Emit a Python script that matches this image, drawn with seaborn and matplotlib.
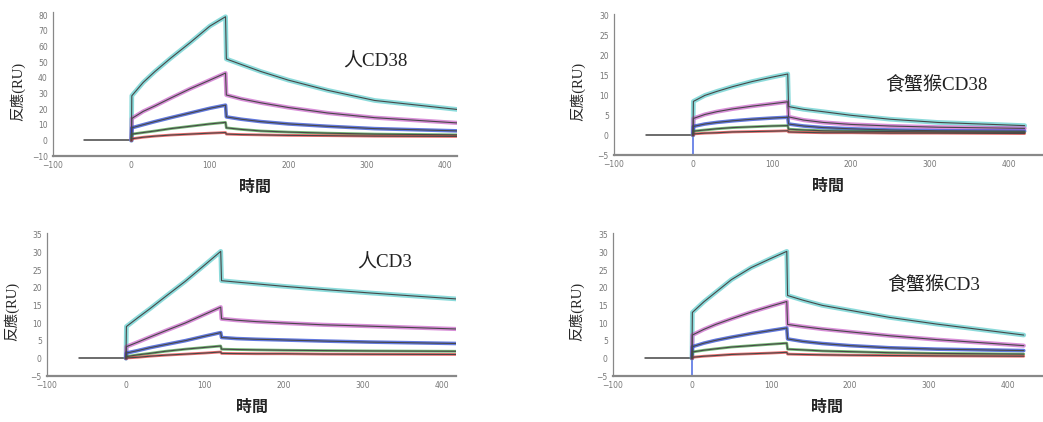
import matplotlib
matplotlib.use("Agg")
import matplotlib.pyplot as plt
import pandas as pd
import seaborn as sns
from matplotlib.ticker import MultipleLocator

# time points (s) shared by every curve: injection at 0, wash at 120
TIME = [0, 0.5, 15, 30, 50, 75, 100, 120, 121, 140, 165, 200, 250, 310, 420]
CONCS = ["c5", "c4", "c3", "c2", "c1"]
COLORS = {"c5": "#5ccccc", "c4": "#c860c8", "c3": "#2040d0", "c2": "#3a9a3a", "c1": "#e03030"}
WIDTHS = {"c5": 3.4, "c4": 3.0, "c3": 2.6, "c2": 2.0, "c1": 2.0}

BASE_T = [-60, 0]
BASE_V = [0, 0]

# 人CD38
H38 = {
    "c5": [0, 28.5, 37, 44, 52.5, 62.5, 73, 79, 52, 48.5, 44, 38.5, 32, 25.5, 19.5],
    "c4": [0, 14, 18.5, 22, 27, 33, 38.5, 43, 29, 26.5, 24, 21, 17.5, 14.5, 11],
    "c3": [0, 8, 10, 12, 14.5, 17.5, 20.5, 22.5, 15, 13.5, 12, 10.5, 9, 7.5, 6],
    "c2": [0, 4, 5, 6, 7.5, 9, 10.5, 11.5, 8, 7, 6, 5.3, 4.6, 4, 3.5],
    "c1": [0, 1, 2, 2.7, 3.4, 4, 4.6, 5, 4, 3.7, 3.5, 3.2, 3, 2.7, 2.5],
}
# 食蟹猴CD38
C38 = {
    "c5": [0, 8.5, 10, 11, 12.2, 13.5, 14.6, 15.4, 7.2, 6.5, 5.9, 5.0, 4.0, 3.2, 2.4],
    "c4": [0, 4.2, 5.2, 5.9, 6.6, 7.3, 7.9, 8.4, 4.6, 3.8, 3.2, 2.7, 2.3, 2.0, 1.7],
    "c3": [0, 2.2, 2.8, 3.2, 3.6, 4.0, 4.3, 4.5, 2.8, 2.3, 1.9, 1.6, 1.3, 1.1, 1.0],
    "c2": [0, 1.0, 1.3, 1.6, 1.9, 2.1, 2.3, 2.4, 1.5, 1.3, 1.1, 1.0, 0.9, 0.8, 0.7],
    "c1": [0, 0.3, 0.5, 0.6, 0.8, 0.9, 1.0, 1.1, 0.8, 0.7, 0.6, 0.6, 0.5, 0.5, 0.4],
}
# 人CD3
H3 = {
    "c5": [0, 9, 11.5, 14, 17.5, 21.8, 26.5, 30.3, 22, 21.6, 21.1, 20.4, 19.5, 18.5, 16.8],
    "c4": [0, 3.3, 4.6, 6, 7.8, 10, 12.5, 14.5, 11.2, 10.8, 10.4, 10.0, 9.5, 9.1, 8.3],
    "c3": [0, 1.5, 2.2, 3, 3.9, 5, 6.3, 7.3, 5.9, 5.6, 5.4, 5.2, 4.9, 4.6, 4.2],
    "c2": [0, 0.5, 1.0, 1.4, 2.0, 2.6, 3.1, 3.5, 2.6, 2.5, 2.4, 2.3, 2.2, 2.1, 2.0],
    "c1": [0, 0.1, 0.3, 0.6, 0.9, 1.2, 1.5, 1.8, 1.4, 1.35, 1.3, 1.3, 1.2, 1.15, 1.1],
}
# 食蟹猴CD3
C3 = {
    "c5": [0, 13, 16, 18.7, 22.3, 25.7, 28.3, 30.3, 17.8, 16.5, 15.0, 13.6, 11.6, 9.7, 6.6],
    "c4": [0, 6.6, 8.2, 9.6, 11.2, 13.1, 14.8, 16.1, 9.6, 9.0, 8.3, 7.5, 6.4, 5.3, 3.6],
    "c3": [0, 3.3, 4.3, 5.1, 6.0, 7.0, 7.9, 8.6, 5.5, 4.8, 4.2, 3.6, 3.0, 2.6, 2.2],
    "c2": [0, 1.8, 2.3, 2.7, 3.2, 3.6, 4.0, 4.3, 2.6, 2.4, 2.1, 1.9, 1.6, 1.4, 1.2],
    "c1": [0, 0.3, 0.6, 0.8, 1.1, 1.3, 1.5, 1.7, 1.2, 1.1, 1.0, 0.9, 0.8, 0.7, 0.6],
}
# injection artefact on the blue trace (cyno panels)
SPIKE_T = [0, 0]
SPIKE_V = [0, -5]

TITLES = ["人CD38", "食蟹猴CD38", "人CD3", "食蟹猴CD3"]

sns.set_style("white")
plt.rcParams["font.family"] = ["Liberation Serif", "Noto Sans CJK TC", "DejaVu Sans"]
CJK = ["Liberation Serif", "Noto Sans CJK TC"]


def long_df(curves):
    rows = []
    for c in CONCS:
        for t, v in zip(TIME, curves[c]):
            rows.append({"t": t, "v": v, "conc": c})
    return pd.DataFrame(rows)


panels = [
    # data, rect, xlim, ylim, ystep, title pos, spike
    (H38, [0.0508, 0.6303, 0.3873, 0.3412], (-100, 415), (-10, 82), 10, (0.718, 0.653), False),
    (C38, [0.5887, 0.6327, 0.4104, 0.3341], (-100, 442), (-5, 30.5), 5, (0.633, 0.496), True),
    (H3, [0.0451, 0.1090, 0.3921, 0.3389], (-100, 418), (-5, 35.5), 5, (0.758, 0.790), False),
    (C3, [0.5877, 0.1090, 0.4113, 0.3389], (-100, 443), (-5, 35.5), 5, (0.640, 0.636), True),
]

fig = plt.figure(figsize=(10.43, 4.22), dpi=100)
for (curves, rect, xlim, ylim, ystep, tpos, spike), title in zip(panels, TITLES):
    ax = fig.add_axes(rect)
    df = long_df(curves)
    ax.plot(BASE_T, BASE_V, color="#444444", lw=1.1)
    if spike:
        ax.plot(SPIKE_T, SPIKE_V, color="#4060e0", lw=1.3, alpha=0.8)
    # measured traces (coloured, pale and wide), then fitted curves on top
    for c in CONCS:
        sub = df[df["conc"] == c]
        sns.lineplot(data=sub, x="t", y="v", estimator=None, sort=False, legend=False,
                     color=COLORS[c], lw=WIDTHS[c], alpha=0.7, ax=ax)
    sns.lineplot(data=df, x="t", y="v", units="conc", estimator=None, sort=False,
                 color="#484848", lw=0.8, legend=False, ax=ax)

    ax.set_xlim(*xlim)
    ax.set_ylim(*ylim)
    ax.xaxis.set_major_locator(MultipleLocator(100))
    ax.xaxis.set_minor_locator(MultipleLocator(50))
    ax.yaxis.set_major_locator(MultipleLocator(ystep))
    ax.tick_params(axis="both", which="major", direction="inout", length=3.5, width=0.8,
                   colors="#777777", labelsize=5.5, pad=2)
    ax.tick_params(axis="x", which="minor", direction="inout", length=2, width=0.6, colors="#999999")
    for lab in ax.get_xticklabels() + ax.get_yticklabels():
        lab.set_family("DejaVu Sans")
    for side in ("top", "right"):
        ax.spines[side].set_visible(False)
    ax.spines["left"].set_color("#888888")
    ax.spines["left"].set_linewidth(0.9)
    ax.spines["bottom"].set_color("#888888")
    ax.spines["bottom"].set_linewidth(1.6)

    ax.set_ylabel("反應(RU)", fontsize=10.5, family=CJK)
    ax.yaxis.set_label_coords(-0.068, 0.45)
    ax.set_xlabel("時間", fontsize=11.5, fontweight="bold", family=["Noto Sans CJK TC"])
    ax.xaxis.set_label_coords(0.5, -0.16)
    ax.text(tpos[0], tpos[1], title, transform=ax.transAxes, ha="left", va="center",
            fontsize=13.7, family=CJK, color="#222222")

fig.savefig("out.png", dpi=100)
